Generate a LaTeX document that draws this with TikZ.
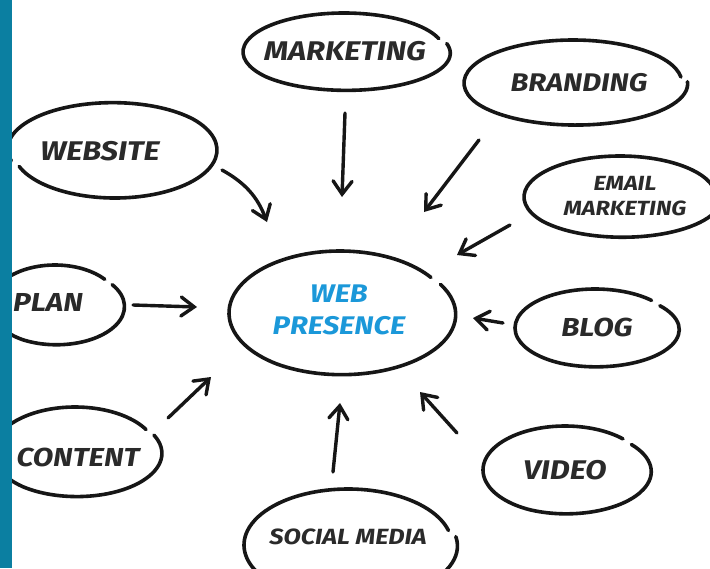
\documentclass[tikz,border=0pt]{standalone}
\usepackage{fontspec}
\setmainfont{Fira Sans}[FakeStretch=1.15]
\usetikzlibrary{arrows.meta,shapes.geometric}
\definecolor{barblue}{HTML}{0B7FA1}
\definecolor{wpblue}{HTML}{1B98D9}
\definecolor{ink}{HTML}{161616}
\definecolor{txt}{HTML}{2A2A2A}
\newcommand\handell[6]{%
  \draw[sk] (#1,#2) ++(#5:#3 and #4)
    arc[start angle=#5, delta angle=200, x radius=#3, y radius=#4]
    arc[start angle=#5+200, delta angle=155, x radius=#3+#6, y radius=#4-#6*0.6];}
\newcommand\lblfont[1]{\fontsize{#1}{#1}\bfseries\itshape}
\begin{document}
\begin{tikzpicture}[x=1pt,y=1pt,
  sk/.style={draw=ink, line width=3.6pt, line cap=round, line join=round},
  lbl/.style={text=txt, align=center, inner sep=0pt},
  arr/.style={draw=ink, line width=3.4pt, line cap=round,
    -{Straight Barb[length=13pt,width=19pt,line cap=round]}}]
\useasboundingbox (0,0) rectangle (710,-568);
\fill[white] (0,0) rectangle (710,-568);

% nodes
\node[lbl, font=\lblfont{27}] (website) at (100,-151) {WEBSITE};
\node[lbl, font=\lblfont{27}] (marketing) at (345,-51) {MARKETING};
\node[lbl, font=\lblfont{25.5}] (branding) at (579,-83) {BRANDING};
\node[lbl, font=\fontsize{20.5}{25}\bfseries\itshape] (email) at (625,-196) {EMAIL\\MARKETING};
\node[lbl, font=\lblfont{26}] (blog) at (597,-327) {BLOG};
\node[lbl, font=\lblfont{27}] (video) at (565,-470) {VIDEO};
\node[lbl, font=\lblfont{22}] (social) at (348,-537) {SOCIAL MEDIA};
\node[lbl, font=\lblfont{26}] (content) at (78,-457) {CONTENT};
\node[lbl, font=\lblfont{26}] (plan) at (48,-302) {PLAN};
\node[lbl, font=\fontsize{25.5}{32}\bfseries\itshape, text=wpblue] (wp) at (339,-310) {WEB\\PRESENCE};

% hand-drawn outlines
\handell{115}{-150}{102}{48}{200}{3}
\handell{344}{-52}{101}{39}{20}{3}
\handell{573}{-83}{109}{43}{8}{3}
\handell{620}{-197}{96}{41}{15}{3}
\handell{595}{-328}{80}{39}{45}{3}
\handell{565}{-470}{82}{44}{45}{3}
\handell{348}{-545}{104}{56}{15}{3}
\handell{75}{-452}{82}{45}{30}{3}
\handell{55}{-305}{65}{40}{40}{3}
\handell{340}{-313}{111}{62}{35}{3}

% connector endpoints
\coordinate (a1s) at (222,-170); \coordinate (a1e) at (267,-222);
\coordinate (a2s) at (345,-113); \coordinate (a2e) at (342,-197);
\coordinate (a3s) at (479,-140); \coordinate (a3e) at (424,-212);
\coordinate (a4s) at (510,-225); \coordinate (a4e) at (457,-255);
\coordinate (a5s) at (503,-323); \coordinate (a5e) at (473,-318);
\coordinate (a6s) at (457,-433); \coordinate (a6e) at (420,-392);
\coordinate (a7s) at (333,-472); \coordinate (a7e) at (340,-403);
\coordinate (a8s) at (168,-418); \coordinate (a8e) at (211,-377);
\coordinate (a9s) at (133,-305); \coordinate (a9e) at (197,-307);

\draw[arr] (a1s) to[bend left=20] (a1e);
\draw[arr] (a2s) -- (a2e);
\draw[arr] (a3s) -- (a3e);
\draw[arr] (a4s) -- (a4e);
\draw[arr] (a5s) -- (a5e);
\draw[arr] (a6s) -- (a6e);
\draw[arr] (a7s) -- (a7e);
\draw[arr] (a8s) -- (a8e);
\draw[arr] (a9s) -- (a9e);

% left bar
\fill[barblue] (0,0) rectangle (12,-568);
\end{tikzpicture}
\end{document}
